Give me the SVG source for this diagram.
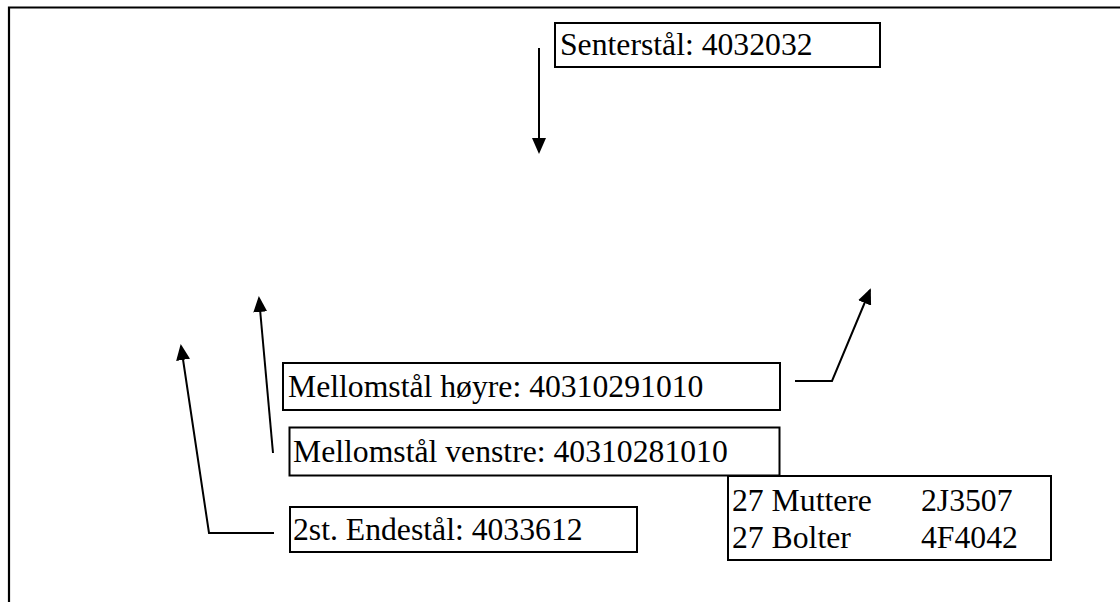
<svg xmlns="http://www.w3.org/2000/svg" width="1120" height="602" viewBox="0 0 1120 602">
<defs>
<style>
.box{fill:#fff;stroke:#000;stroke-width:2}
.t{font-family:'Liberation Serif','Times New Roman','DejaVu Serif',serif;font-size:31.7px;fill:#000}
.c{fill:none;stroke:#000;stroke-width:2}
.frame{fill:none;stroke:#000;stroke-width:2.2}
</style>
<marker id="ah" markerUnits="userSpaceOnUse" viewBox="0 0 16 14" refX="14" refY="7" markerWidth="16" markerHeight="14" orient="auto">
<path d="M0,0 L16,7 L0,14 Z" fill="#000"/>
</marker>
</defs>
<rect width="1120" height="602" fill="#fff"/>
<path class="frame" d="M9,602 V7.5 H1120"/>
<g id="connectors">
<path class="c" d="M539,48 V152" marker-end="url(#ah)"/>
<path class="c" d="M274,533 H209 L181,346" marker-end="url(#ah)"/>
<path class="c" d="M273,453 L259,298" marker-end="url(#ah)"/>
<path class="c" d="M795,381 H832 L870,290" marker-end="url(#ah)"/>
</g>
<g id="senterstal">
<rect class="box" x="555" y="23" width="325" height="44"/>
<text class="t" font-family="Liberation Serif, serif" x="560" y="55">Senterstål: 4032032</text>
</g>
<g id="mellomstal-hoyre">
<rect class="box" x="283" y="363" width="497" height="47"/>
<text class="t" font-family="Liberation Serif, serif" x="288" y="397">Mellomstål høyre: 40310291010</text>
</g>
<g id="mellomstal-venstre">
<rect class="box" x="289.5" y="427.5" width="490" height="48"/>
<text class="t" font-family="Liberation Serif, serif" x="293" y="462">Mellomstål venstre: 40310281010</text>
</g>
<g id="endestal">
<rect class="box" x="290" y="507" width="347" height="45"/>
<text class="t" font-family="Liberation Serif, serif" x="293" y="540">2st. Endestål: 4033612</text>
</g>
<g id="muttere-bolter">
<rect class="box" x="728" y="476" width="323" height="84"/>
<text class="t" font-family="Liberation Serif, serif" x="732" y="511">27 Muttere</text>
<text class="t" font-family="Liberation Serif, serif" x="921" y="511">2J3507</text>
<text class="t" font-family="Liberation Serif, serif" x="732" y="548">27 Bolter</text>
<text class="t" font-family="Liberation Serif, serif" x="921" y="548">4F4042</text>
</g>
</svg>
